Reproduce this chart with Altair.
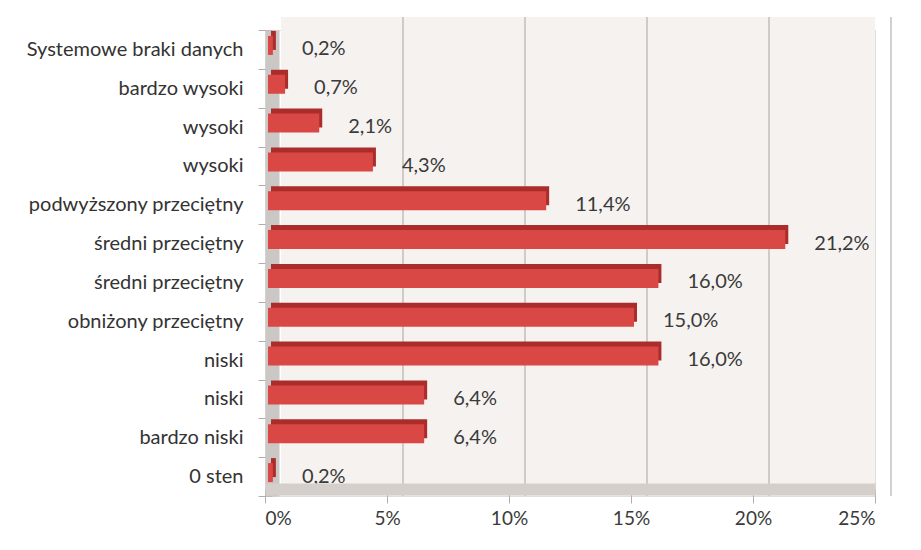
import altair as alt
import pandas as pd

categories = ["Systemowe braki danych", "bardzo wysoki", "wysoki", "wysoki",
              "podwyższony przeciętny", "średni przeciętny", "średni przeciętny",
              "obniżony przeciętny", "niski", "niski", "bardzo niski", "0 sten"]
values = [0.2, 0.7, 2.1, 4.3, 11.4, 21.2, 16.0, 15.0, 16.0, 6.4, 6.4, 0.2]
x_ticks = [0, 5, 10, 15, 20, 25]
grid_vals = [5, 10, 15, 20, 25]

keys = [f"{i:02d}|{c}" for i, c in enumerate(categories)]
df = pd.DataFrame({"key": keys, "value": values})
grid_df = pd.DataFrame({"g": grid_vals})
wall_df = pd.DataFrame({"a": [0], "b": [25]})

FONT = "Lato"
xscale = alt.Scale(domain=[0, 25], nice=False, zero=True)

x_axis = alt.Axis(values=x_ticks, labelExpr="datum.value + '%'", title=None,
                  grid=False, offset=-7, domainWidth=12, domainColor="#d5cfcb",
                  tickSize=14, tickColor="#b3aeab", labelPadding=6, zindex=1,
                  labelFontSize=19, labelColor="#3a3a3a", labelFont=FONT)
y_axis = alt.Axis(title=None, labelExpr="split(datum.label, '|')[1]",
                  offset=-7, domainWidth=14, domainColor="#cbc7c5",
                  tickSize=14, tickColor="#b3aeab", tickBand="extent",
                  labelPadding=15, labelFontSize=20, labelColor="#333333",
                  labelFont=FONT, labelLimit=300)

wall = alt.Chart(wall_df).mark_rect(xOffset=16, yOffset=-13,
                                    color="#f5f2f0").encode(
    x=alt.X("a:Q", scale=xscale, axis=x_axis), x2="b:Q")

grid = alt.Chart(grid_df).mark_rule(xOffset=16, yOffset=-13,
                                    color="#b5b0ad", strokeWidth=1.2).encode(
    x=alt.X("g:Q", scale=xscale))

ybase = alt.Y("key:N", sort=keys, axis=y_axis,
              scale=alt.Scale(paddingInner=0, paddingOuter=0))

bars_back = alt.Chart(df).mark_bar(size=19, xOffset=6, yOffset=-9,
                                   color="#aa2d2b").encode(
    x=alt.X("value:Q", scale=xscale), y=ybase)
bars_front = alt.Chart(df).mark_bar(size=19, xOffset=3, yOffset=-4,
                                    color="#d94845").encode(
    x=alt.X("value:Q", scale=xscale), y=ybase)

labels = alt.Chart(df).transform_calculate(
    lab="replace(format(datum.value, '.1f'), '.', ',') + '%'"
).mark_text(align="left", baseline="middle", dx=32, fontSize=20,
            color="#3a3a3a", font=FONT).encode(
    x=alt.X("value:Q", scale=xscale), y=ybase, text="lab:N")

chart = alt.layer(wall, grid, bars_back, bars_front, labels).properties(
    width=610, height=466,
    autosize=alt.AutoSizeParams(type="none"),
    padding={"left": 257, "top": 22, "right": 38, "bottom": 34},
).configure_view(stroke=None).configure(background="white")

chart.save("out.html", embed_options={"renderer": "svg", "actions": False})
